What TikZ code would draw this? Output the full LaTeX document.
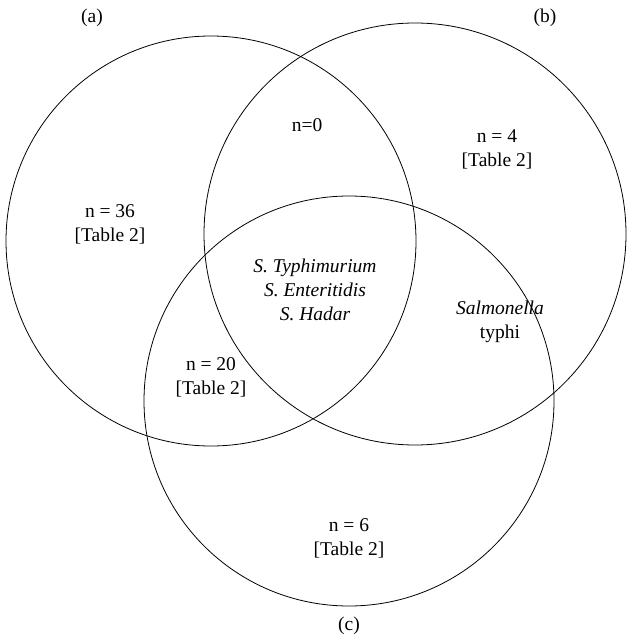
\documentclass[tikz,border=0pt]{standalone}
\usepackage{fontspec}
\setmainfont{Liberation Serif}

\begin{document}
\begin{tikzpicture}[x = 1pt, y = -1pt, line width = 0.8pt,
		set/.style = {circle, draw, inner sep = 0pt},
		txt/.style = {align = center, font = \fontsize{19.5}{24}\selectfont, inner sep = 0pt},
		tag/.style = {font = \fontsize{19.5}{24}\selectfont, inner sep = 0pt}]
		
		\useasboundingbox (0,0) rectangle (627,639);
		
		\node [set, minimum size = 410pt] (A) at (211,241) {};
		\node [set, minimum size = 422pt] (B) at (415,234) {};
		\node [set, minimum size = 410pt] (C) at (349,401) {};
		
		\node [tag] (la) at (92,18) {(a)};
		\node [tag] (lb) at (545,18) {(b)};
		\node [tag] (lc) at (349,626) {(c)};
		
		\node [txt] (ab) at (307,125) {n=0};
		\node [txt] (onlyb) at (497,149) {n = 4\\{}[Table 2]};
		\node [txt] (onlya) at (110,224) {n = 36\\{}[Table 2]};
		\node [txt] (abc) at (315,290) {\itshape S. Typhimurium\\\itshape S. Enteritidis\\\itshape S. Hadar};
		\node [txt] (bc) at (500,322) {\itshape Salmonella\\typhi};
		\node [txt] (ac) at (211,377) {n = 20\\{}[Table 2]};
		\node [txt] (onlyc) at (349,538) {n = 6\\{}[Table 2]};
		
		\end{tikzpicture}
\end{document}
